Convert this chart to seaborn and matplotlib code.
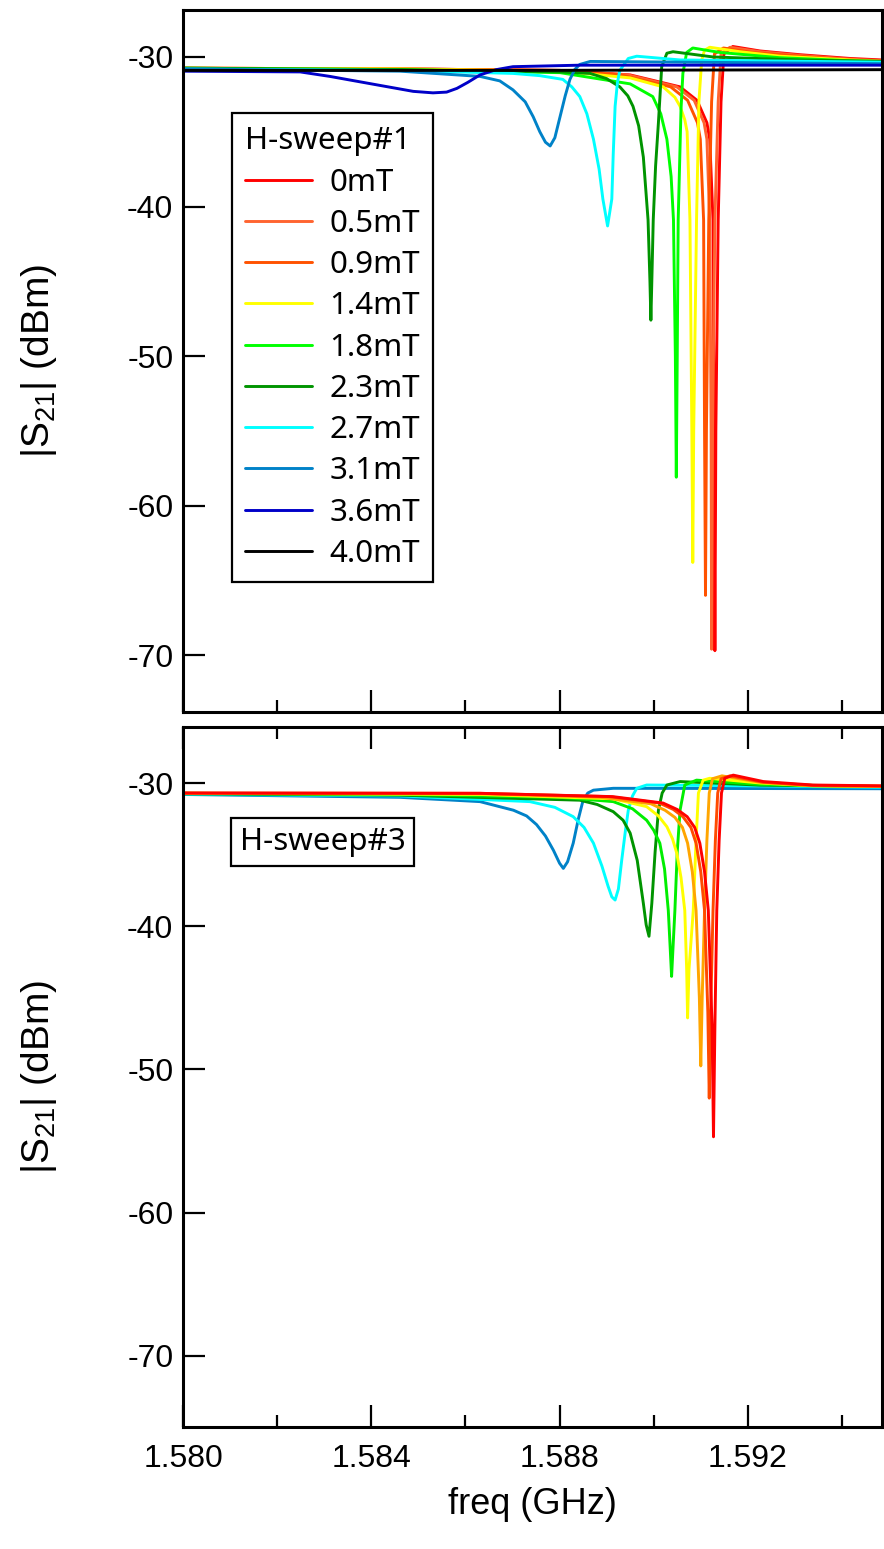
import pandas as pd
import matplotlib
matplotlib.use('Agg')
import matplotlib.pyplot as plt
import seaborn as sns
from matplotlib.ticker import MultipleLocator, FormatStrFormatter

# field steps and colours
top_fields = ['0mT', '0.5mT', '0.9mT', '1.4mT', '1.8mT', '2.3mT', '2.7mT', '3.1mT', '3.6mT', '4.0mT']
top_colors = ['#ff0000', '#ff6430', '#ff5200', '#ffff00', '#00ff00', '#009400',
              '#00ffff', '#0082c8', '#0000c8', '#000000']
bot_fields = ['0mT', '0.5mT', '0.9mT', '1.4mT', '1.8mT', '2.3mT', '2.7mT', '3.1mT']
bot_colors = ['#ff0000', '#ff4a00', '#ffa500', '#ffff00', '#00ee00', '#009400', '#00ffff', '#0082c8']

# H-sweep#1 traces: (freq GHz, |S21| dBm)
s1_00 = [(1.58000, -30.75), (1.58461, -30.80), (1.58801, -30.90), (1.58950, -31.20), (1.59056, -32.00),
         (1.59092, -32.90), (1.59113, -34.40), (1.59119, -35.50), (1.59126, -40.90), (1.59128, -55.0),
         (1.59130, -69.70), (1.59132, -55.0), (1.59137, -40.90), (1.59143, -33.0), (1.59149, -29.80),
         (1.59168, -29.30), (1.59226, -29.60), (1.59311, -29.85), (1.59417, -30.10), (1.59485, -30.20)]
s1_05 = [(1.58000, -30.75), (1.58461, -30.80), (1.58801, -30.90), (1.58945, -31.20), (1.59049, -32.00),
         (1.59086, -32.90), (1.59107, -34.40), (1.59113, -35.50), (1.59119, -40.90), (1.59122, -55.0),
         (1.59123, -69.60), (1.59125, -55.0), (1.59130, -40.90), (1.59137, -33.0), (1.59143, -29.80),
         (1.59162, -29.35), (1.59226, -29.65), (1.59311, -29.90), (1.59417, -30.15), (1.59485, -30.25)]
s1_09 = [(1.58000, -30.75), (1.58461, -30.80), (1.58801, -30.90), (1.58930, -31.20), (1.59036, -32.00),
         (1.59072, -32.90), (1.59093, -34.40), (1.59099, -35.50), (1.59106, -40.90), (1.59108, -55.0),
         (1.59110, -66.00), (1.59112, -55.0), (1.59117, -40.90), (1.59123, -33.0), (1.59129, -29.80),
         (1.59148, -29.40), (1.59210, -29.70), (1.59311, -29.95), (1.59417, -30.20), (1.59485, -30.25)]
s1_14 = [(1.58000, -30.75), (1.58461, -30.80), (1.58801, -30.95), (1.58950, -31.40), (1.59020, -32.00),
         (1.59045, -32.70), (1.59056, -33.30), (1.59066, -34.20), (1.59071, -35.00), (1.59077, -40.90),
         (1.59081, -55.0), (1.59083, -63.80), (1.59085, -55.0), (1.59091, -40.90), (1.59096, -33.0),
         (1.59102, -30.20), (1.59108, -29.55), (1.59119, -29.35), (1.59183, -29.65), (1.59268, -29.95),
         (1.59417, -30.20), (1.59485, -30.30)]
s1_18 = [(1.58000, -30.75), (1.58461, -30.85), (1.58801, -31.05), (1.58950, -31.80), (1.58998, -32.65),
         (1.59015, -33.80), (1.59028, -35.50), (1.59037, -38.00), (1.59042, -40.90), (1.59046, -50.0),
         (1.59048, -58.10), (1.59050, -50.0), (1.59052, -40.90), (1.59058, -33.50), (1.59062, -31.10),
         (1.59070, -29.70), (1.59083, -29.40), (1.59141, -29.70), (1.59268, -30.05), (1.59417, -30.25),
         (1.59485, -30.30)]
s1_23 = [(1.58000, -30.75), (1.58461, -30.85), (1.58801, -31.00), (1.58865, -31.10), (1.58900, -31.45),
         (1.58928, -32.00), (1.58945, -32.60), (1.58956, -33.30), (1.58968, -34.60), (1.58978, -36.70),
         (1.58988, -40.90), (1.58992, -45.0), (1.58994, -47.60), (1.58996, -45.0), (1.58999, -40.90),
         (1.59004, -37.30), (1.59010, -34.40), (1.59017, -30.65), (1.59028, -29.75), (1.59041, -29.65),
         (1.59126, -30.00), (1.59311, -30.20), (1.59485, -30.30)]
s1_27 = [(1.58000, -30.80), (1.58461, -30.90), (1.58701, -31.10), (1.58758, -31.25), (1.58807, -31.50),
         (1.58826, -32.00), (1.58843, -32.65), (1.58858, -33.80), (1.58872, -35.50), (1.58884, -37.50),
         (1.58892, -39.50), (1.58902, -41.30), (1.58911, -39.50), (1.58914, -36.50), (1.58918, -33.30),
         (1.58923, -31.70), (1.58928, -30.90), (1.58946, -30.10), (1.58964, -29.95), (1.59056, -30.20),
         (1.59485, -30.35)]
s1_31 = [(1.58000, -30.80), (1.58461, -30.95), (1.58631, -31.30), (1.58673, -31.60), (1.58701, -32.20),
         (1.58727, -33.00), (1.58744, -34.00), (1.58758, -35.00), (1.58770, -35.70), (1.58780, -35.95),
         (1.58790, -35.40), (1.58801, -34.00), (1.58812, -32.60), (1.58822, -31.50), (1.58832, -30.85),
         (1.58843, -30.50), (1.58865, -30.30), (1.59485, -30.45)]
s1_36 = [(1.58000, -30.95), (1.58249, -31.00), (1.58312, -31.30), (1.58365, -31.60), (1.58418, -31.90),
         (1.58489, -32.30), (1.58531, -32.40), (1.58560, -32.35), (1.58582, -32.10), (1.58605, -31.70),
         (1.58631, -31.20), (1.58665, -30.85), (1.58701, -30.65), (1.58843, -30.55), (1.59485, -30.55)]
s1_40 = [(1.58000, -30.90), (1.58700, -30.90), (1.59485, -30.85)]

# H-sweep#3 traces
s3_00 = [(1.58000, -30.70), (1.58631, -30.72), (1.58913, -30.95), (1.59020, -31.40), (1.59050, -31.85),
         (1.59071, -32.35), (1.59087, -33.10), (1.59098, -34.20), (1.59108, -36.20), (1.59116, -38.90),
         (1.59124, -47.0), (1.59127, -54.70), (1.59130, -47.0), (1.59134, -38.90), (1.59139, -34.00),
         (1.59144, -30.70), (1.59151, -29.67), (1.59169, -29.45), (1.59233, -29.90), (1.59338, -30.14),
         (1.59485, -30.20)]
s3_05 = [(1.58000, -30.70), (1.58631, -30.72), (1.58905, -30.95), (1.59012, -31.40), (1.59042, -31.85),
         (1.59062, -32.35), (1.59079, -33.10), (1.59090, -34.20), (1.59100, -36.20), (1.59108, -38.90),
         (1.59115, -46.0), (1.59118, -52.00), (1.59121, -46.0), (1.59126, -38.90), (1.59131, -34.00),
         (1.59136, -30.70), (1.59143, -29.70), (1.59162, -29.50), (1.59233, -29.95), (1.59338, -30.17),
         (1.59485, -30.22)]
s3_09 = [(1.58000, -30.72), (1.58631, -30.75), (1.58887, -31.00), (1.58994, -31.45), (1.59024, -31.90),
         (1.59045, -32.40), (1.59061, -33.10), (1.59072, -34.20), (1.59082, -36.20), (1.59090, -38.90),
         (1.59097, -45.0), (1.59100, -49.75), (1.59103, -45.0), (1.59108, -38.90), (1.59113, -34.00),
         (1.59118, -30.70), (1.59125, -29.70), (1.59145, -29.50), (1.59226, -29.95), (1.59338, -30.18),
         (1.59485, -30.22)]
s3_14 = [(1.58000, -30.72), (1.58631, -30.80), (1.58913, -31.10), (1.58985, -31.65), (1.59010, -32.30),
         (1.59028, -33.05), (1.59040, -33.90), (1.59049, -34.90), (1.59058, -36.60), (1.59066, -38.90),
         (1.59070, -43.0), (1.59072, -46.40), (1.59075, -43.0), (1.59084, -38.90), (1.59090, -34.00),
         (1.59095, -30.70), (1.59105, -29.80), (1.59119, -29.67), (1.59226, -30.00), (1.59338, -30.20),
         (1.59485, -30.25)]
s3_18 = [(1.58000, -30.72), (1.58461, -30.80), (1.58801, -31.00), (1.58914, -31.30), (1.58955, -31.80),
         (1.58985, -32.60), (1.59000, -33.30), (1.59013, -34.20), (1.59023, -36.00), (1.59031, -38.90),
         (1.59035, -41.50), (1.59038, -43.50), (1.59041, -41.50), (1.59045, -38.90), (1.59050, -34.80),
         (1.59056, -31.90), (1.59066, -30.14), (1.59091, -29.80), (1.59226, -30.10), (1.59485, -30.25)]
s3_23 = [(1.58000, -30.75), (1.58461, -30.85), (1.58843, -31.20), (1.58880, -31.50), (1.58914, -32.00),
         (1.58935, -32.60), (1.58950, -33.50), (1.58965, -35.40), (1.58978, -38.40), (1.58984, -39.90),
         (1.58990, -40.70), (1.58996, -38.40), (1.59003, -34.80), (1.59010, -31.90), (1.59018, -30.70),
         (1.59028, -30.14), (1.59056, -29.90), (1.59226, -30.15), (1.59485, -30.25)]
s3_27 = [(1.58000, -30.78), (1.58461, -30.90), (1.58737, -31.30), (1.58790, -31.70), (1.58829, -32.35),
         (1.58852, -33.10), (1.58872, -34.20), (1.58890, -35.80), (1.58903, -37.20), (1.58911, -37.95),
         (1.58918, -38.17), (1.58925, -37.40), (1.58932, -35.40), (1.58940, -33.30), (1.58946, -31.90),
         (1.58955, -30.90), (1.58964, -30.37), (1.58985, -30.14), (1.59226, -30.20), (1.59485, -30.30)]
s3_31 = [(1.58000, -30.80), (1.58461, -31.00), (1.58631, -31.30), (1.58702, -31.90), (1.58730, -32.30),
         (1.58751, -32.90), (1.58770, -33.70), (1.58787, -34.70), (1.58800, -35.60), (1.58808, -35.96),
         (1.58817, -35.50), (1.58829, -34.20), (1.58840, -32.50), (1.58850, -31.20), (1.58860, -30.70),
         (1.58872, -30.50), (1.58914, -30.37), (1.59485, -30.40)]

sweep1 = [s1_00, s1_05, s1_09, s1_14, s1_18, s1_23, s1_27, s1_31, s1_36, s1_40]
sweep3 = [s3_00, s3_05, s3_09, s3_14, s3_18, s3_23, s3_27, s3_31]


def to_frame(traces, fields):
    rows = []
    for name, pts in zip(fields, traces):
        for f, d in pts:
            rows.append((f, d, name))
    return pd.DataFrame(rows, columns=['freq', 'S21', 'field'])


df1 = to_frame(sweep1, top_fields)
df3 = to_frame(sweep3, bot_fields)

sns.set_style('ticks')
plt.rcParams['font.family'] = ['Liberation Sans', 'DejaVu Sans']
plt.rcParams['axes.unicode_minus'] = False
plt.rcParams['mathtext.default'] = 'regular'
for key in ('text.color', 'axes.labelcolor', 'xtick.color', 'ytick.color', 'axes.edgecolor'):
    plt.rcParams[key] = 'black'

fig = plt.figure(figsize=(8.84, 15.49), dpi=100)
W, H = 884, 1549
ax1 = fig.add_axes([183 / W, 1 - 712 / H, 699 / W, 702 / H])
ax2 = fig.add_axes([183 / W, 1 - 1427 / H, 699 / W, 700 / H])

sns.lineplot(data=df1, x='freq', y='S21', hue='field', hue_order=top_fields,
             palette=top_colors, estimator=None, lw=2.1, ax=ax1)
sns.lineplot(data=df3, x='freq', y='S21', hue='field', hue_order=bot_fields[::-1],
             palette=bot_colors[::-1], estimator=None, lw=2.1, ax=ax2, legend=False)

for ax in (ax1, ax2):
    ax.set_xlim(1.580, 1.59485)
    ax.xaxis.set_major_locator(MultipleLocator(0.004))
    ax.xaxis.set_minor_locator(MultipleLocator(0.002))
    ax.xaxis.set_major_formatter(FormatStrFormatter('%.3f'))
    ax.set_yticks([-30, -40, -50, -60, -70])
    ax.tick_params(which='major', direction='in', length=16, width=1.6, pad=7,
                   color='black', labelcolor='black', labelsize=23)
    ax.tick_params(which='minor', direction='in', length=8.5, width=1.6, color='black')
    ax.tick_params(axis='y', which='both', left=True, right=False)
    for sp in ax.spines.values():
        sp.set_visible(True)
        sp.set_linewidth(2.2)
        sp.set_color('black')
    ax.set_ylabel('|S$_{21}$| (dBm)', fontsize=28, color='black')
    ax.yaxis.set_label_coords(-0.178, 0.5)

ax1.set_ylim(-73.8, -26.86)
ax2.set_ylim(-74.96, -26.09)
ax1.tick_params(axis='x', which='both', bottom=True, top=False, labelbottom=False)
ax2.tick_params(axis='x', which='both', bottom=True, top=True, labelbottom=True)
ax2.tick_params(axis='x', which='major', pad=12)
ax1.set_xlabel('')
ax2.set_xlabel('freq (GHz)', fontsize=26, color='black')
ax2.xaxis.set_label_coords(0.5, -0.085)

handles, labels = ax1.get_legend_handles_labels()
leg = ax1.legend(handles, labels, title='H-sweep#1', loc='upper left', bbox_to_anchor=(0.070, 0.853),
                 borderaxespad=0, frameon=True, fancybox=False, framealpha=1, edgecolor='black',
                 alignment='left', prop={'family': 'Noto Sans', 'size': 22.5},
                 title_fontproperties={'family': 'Noto Sans', 'size': 22.5},
                 handlelength=2.15, handletextpad=0.55, labelspacing=0.36, borderpad=0.42)
leg.get_frame().set_linewidth(1.6)
for ln in leg.get_lines():
    ln.set_linewidth(2.1)
for t in leg.get_texts():
    t.set_color('black')
leg.get_title().set_color('black')

ax2.text(0.0815, 0.836, 'H-sweep#3', transform=ax2.transAxes, ha='left', va='center',
         fontsize=22.5, family='Noto Sans', color='black',
         bbox=dict(boxstyle='square,pad=0.28', fc='white', ec='black', lw=1.6))

fig.savefig('out.png', dpi=100)
